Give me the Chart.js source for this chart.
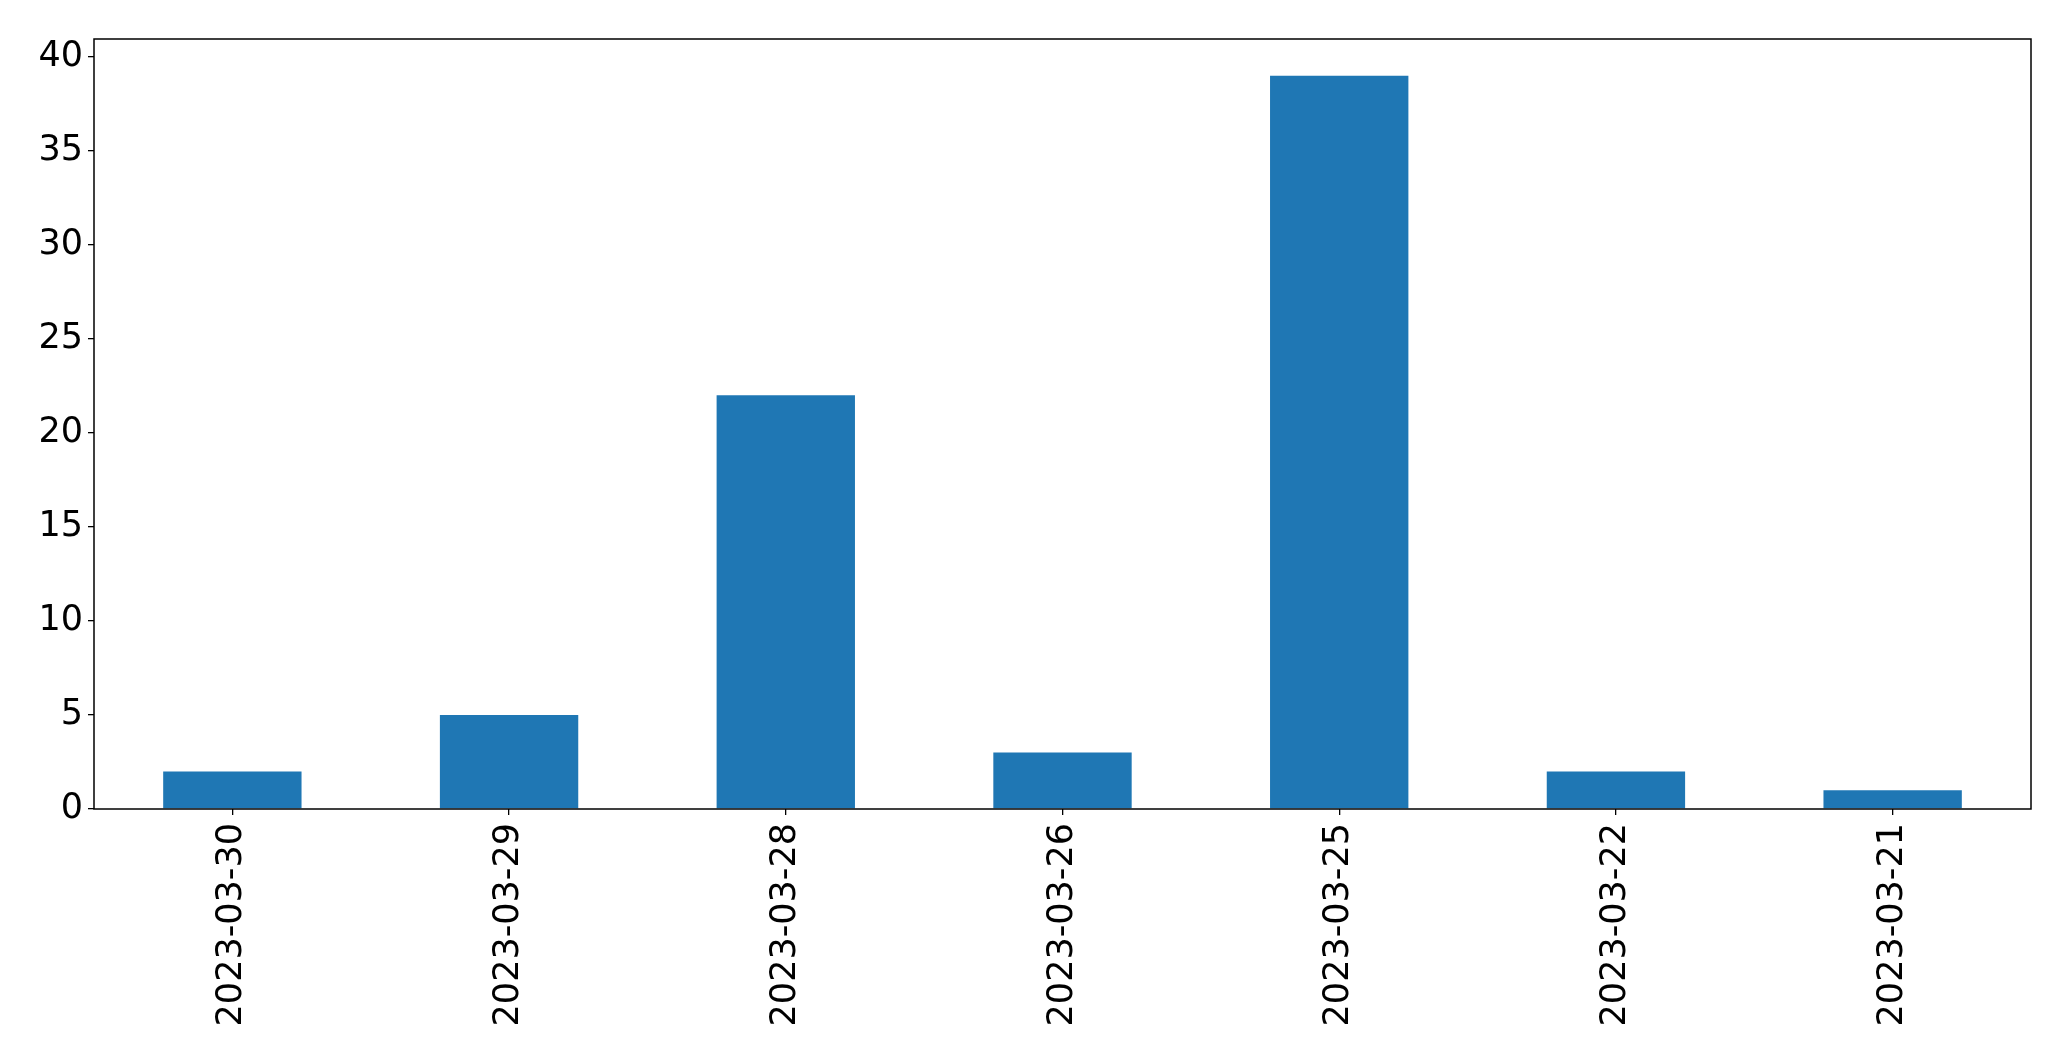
<!DOCTYPE html>
<html>
<head>
<meta charset="utf-8">
<script src="https://cdn.jsdelivr.net/npm/chart.js@4"></script>
<style>
  html, body { margin: 0; padding: 0; background: #fff; }
  #wrap { width: 2071px; height: 1061px; }
</style>
</head>
<body>
<div id="wrap"><canvas id="myChart" width="2071" height="1061"></canvas></div>
<script>
var dates = ['2023-03-30', '2023-03-29', '2023-03-28', '2023-03-26', '2023-03-25', '2023-03-22', '2023-03-21'];
var counts = [2, 5, 22, 3, 39, 2, 1];
var yTicks = [0, 5, 10, 15, 20, 25, 30, 35, 40];

// draws the black box round the plot area
var frame = {
  id: 'frame',
  afterDraw: function(chart) {
    var a = chart.chartArea, c = chart.ctx;
    c.save();
    c.strokeStyle = '#000';
    c.lineWidth = 1.5;
    c.strokeRect(a.left, a.top, a.right - a.left, a.bottom - a.top);
    c.restore();
  }
};

document.addEventListener("DOMContentLoaded", function() {
  var ctx = document.getElementById('myChart').getContext('2d');
  var data = {
    labels: dates,
    datasets: [{
      data: counts,
      backgroundColor: '#1f77b4',
      borderWidth: 0,
      barPercentage: 0.5,
      categoryPercentage: 1.0
    }]
  };

  var config = {
    type: 'bar',
    data: data,
    plugins: [frame],
    options: {
      responsive: false,
      animation: false,
      layout: { padding: { left: 0, top: 39, right: 40, bottom: 0 } },
      plugins: { legend: { display: false }, tooltip: { enabled: false } },
      scales: {
        x: {
          offset: true,
          grid: { display: true, drawOnChartArea: false, drawTicks: true, tickLength: 6, color: '#000', lineWidth: 1.3, offset: false },
          border: { display: false },
          ticks: {
            color: '#000',
            font: { family: 'DejaVu Sans', size: 35 },
            minRotation: 90,
            maxRotation: 90,
            padding: 8
          },
          afterFit: function(s) { s.height = 252; }
        },
        y: {
          min: 0,
          max: 40.95,
          grid: { display: true, drawOnChartArea: false, drawTicks: true, tickLength: 6, color: '#000', lineWidth: 1.3 },
          border: { display: false },
          ticks: {
            color: '#000',
            font: { family: 'DejaVu Sans', size: 35 },
            stepSize: 5,
            padding: 5
          },
          afterBuildTicks: function(s) {
            s.ticks = yTicks.map(function(v) { return { value: v }; });
          },
          afterFit: function(s) { s.width = 94; }
        }
      }
    }
  };
  var myChart = new Chart(ctx, config);
});
</script>
</body>
</html>
